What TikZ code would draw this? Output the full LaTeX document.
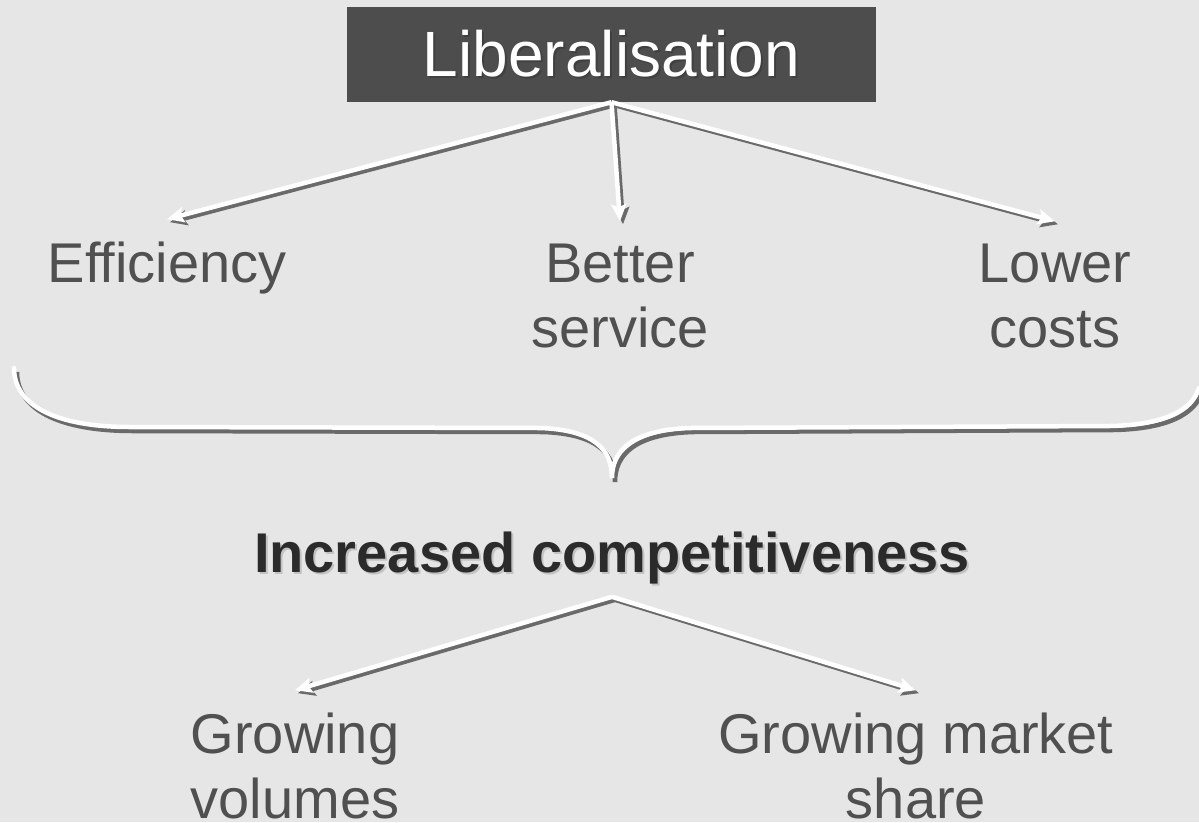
\documentclass[tikz,border=0pt]{standalone}
\usepackage{fontspec}
\setmainfont{Liberation Sans}
\usepackage{tikz}
\usetikzlibrary{arrows.meta}
\definecolor{slide}{HTML}{E6E6E6}
\definecolor{bannerfill}{HTML}{4D4D4D}
\definecolor{ink}{HTML}{505050}
\definecolor{inkdark}{HTML}{2B2B2B}
\definecolor{dropshade}{HTML}{6A6A6A}
\definecolor{softshade}{HTML}{C2C2C2}

% text with a small drop shadow behind it
\newcommand{\dropped}[3]{\rlap{\hspace{#1}\raisebox{-#1}{\color{#2}#3}}#3}

\begin{document}
\begin{tikzpicture}[
  x=1pt, y=-1pt,
  banner/.style={rectangle, fill=bannerfill, text=white, minimum width=529pt, minimum height=95pt, inner sep=0pt, font=\fontsize{64}{70}\selectfont},
  effect/.style={text=ink, align=center, anchor=base, inner xsep=0pt, inner ysep=22pt, font=\fontsize{56}{65}\selectfont},
  result/.style={text=inkdark, anchor=base, inner ysep=11pt, font=\fontsize{56}{65}\selectfont\bfseries},
  head/.style={-{Stealth[length=17pt, width=15pt, inset=3pt]}},
  link/.style={head, draw=white, line width=4.5pt},
  linkshadow/.style={head, draw=dropshade, line width=4.5pt, transform canvas={shift={(3,3)}}},
  brace/.style={draw=white, line width=4.5pt, line cap=round},
  braceshadow/.style={draw=dropshade, line width=4.5pt, transform canvas={shift={(3,4)}}}
]
  \useasboundingbox (0,0) rectangle (1199,822);
  \fill[slide] (0,0) rectangle (1199,822);

  \node[banner] (lib) at (611.5,54.5) {\dropped{2pt}{black!75}{Liberalisation}};
  \node[effect] (eff) at (167,282) {Efficiency};
  \node[effect] (svc) at (620,347) {Better\\service};
  \node[effect] (cost) at (1055,347) {Lower\\costs};

  \foreach \tgt in {eff,svc,cost} {
    \draw[linkshadow] (lib.south) -- (\tgt.north);
    \draw[link] (lib.south) -- (\tgt.north);
  }

  % brace gathering the three effects
  \foreach \look in {braceshadow,brace}
    \draw[\look] (14,368) .. controls (14,405) and (55,427) .. (130,427) -- (540,428)
      .. controls (595,430) and (612,450) .. (612,478)
      .. controls (612,452) and (630,430) .. (690,428) -- (1110,426)
      .. controls (1165,425) and (1192,410) .. (1199,388);

  \node[result] (comp) at (612,572) {\dropped{2pt}{softshade}{Increased competitiveness}};
  \node[effect] (vol) at (295,818) {Growing\\volumes};
  \node[effect] (share) at (916,818) {Growing market\\share};

  \foreach \tgt in {vol,share} {
    \draw[linkshadow] (comp.south) -- (\tgt.north);
    \draw[link] (comp.south) -- (\tgt.north);
  }
\end{tikzpicture}
\end{document}
